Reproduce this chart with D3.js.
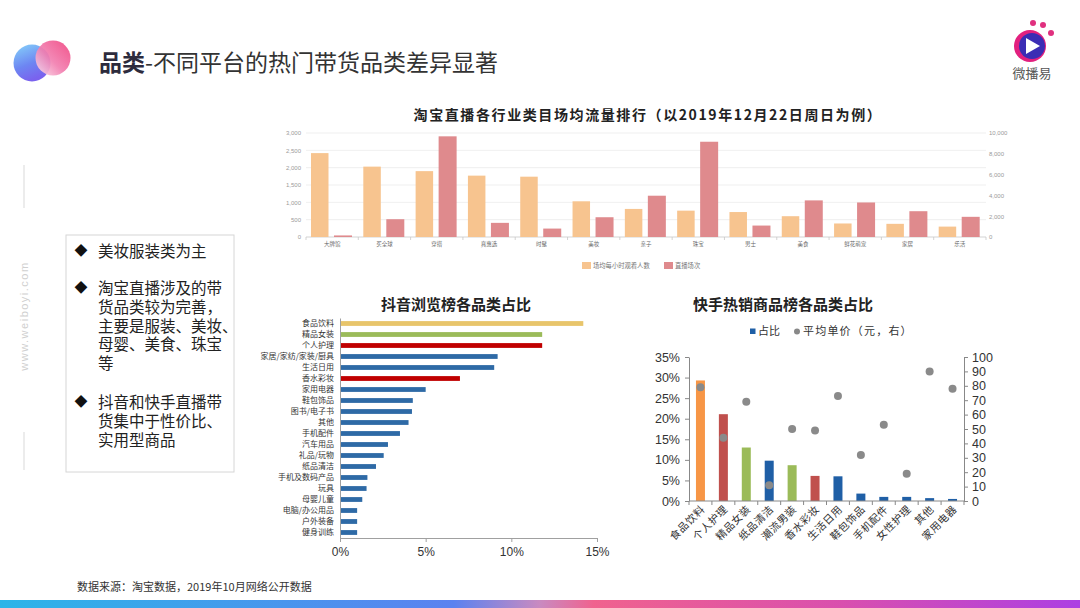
<!DOCTYPE html>
<html><head><meta charset="utf-8">
<script src="https://cdn.jsdelivr.net/npm/d3@7"></script>
<style>body{margin:0;background:#fff} svg{display:block;font-family:"Noto Sans CJK SC","Noto Sans",sans-serif}
.bl{position:absolute;left:0;width:150px;font-family:"Noto Sans CJK SC",sans-serif;font-size:15.5px;line-height:18.8px;color:#222;white-space:pre-line;margin:0}
</style>
</head><body><svg id="c" width="1080" height="608"></svg>
<script>
// ---------- DATA ----------
const tbCats = ["大牌馆","买全球","穿搭","真惠选","时髦","美妆","亲子","珠宝","男士","美食","鲜花萌宠","家居","乐活"];
const tbViewers = [2420,2030,1900,1770,1740,1030,810,760,720,600,390,380,300];
const tbSessions = [150,1710,9680,1360,810,1900,3970,9160,1100,3520,3320,2480,1940];
const tbLeftTicks = [0,500,1000,1500,2000,2500,3000];
const tbRightTicks = [0,2000,4000,6000,8000,10000];
const tbSeries = ["场均每小时观看人数","直播场次"];

const dyCats = ["食品饮料","精品女装","个人护理","家居/家纺/家装/厨具","生活日用","香水彩妆","家用电器","鞋包饰品","图书/电子书","其他","手机配件","汽车用品","礼品/玩物","纸品清洁","手机及数码产品","玩具","母婴儿童","电脑/办公用品","户外装备","健身训练"];
const dyValues = [14.2,11.8,11.8,9.2,9.0,7.0,5.0,4.25,4.2,4.0,3.5,2.8,2.55,2.1,1.6,1.55,1.3,1.0,1.0,1.0];
const dyTicks = [0,5,10,15];

const ksCats = ["食品饮料","个人护理","精品女装","纸品清洁","潮流男装","香水彩妆","生活日用","鞋包饰品","手机配件","女性护理","其他","家用电器"];
const ksShare = [29.3,21.1,13.0,9.8,8.7,6.1,6.0,1.8,1.0,1.0,0.7,0.5];
const ksPrice = [79,44,69,11,50,49,73,32,53,19,90,78];
const ksLeftTicks = [0,5,10,15,20,25,30,35];
const ksRightTicks = [0,10,20,30,40,50,60,70,80,90,100];
const ksSeries = ["占比","平均单价（元，右）"];

const bullets = [["美妆服装类为主"],["淘宝直播涉及的带","货品类较为完善，","主要是服装、美妆、","母婴、美食、珠宝","等"],["抖音和快手直播带","货集中于性价比、","实用型商品"]];

// ---------- STYLE MAPS ----------
const dyColor = c => ({"食品饮料":"#E8C56B","精品女装":"#9BBB59","个人护理":"#C00000","香水彩妆":"#C00000"}[c] || "#2E6AA6");
const ksColor = c => ({"食品饮料":"#F79646","个人护理":"#C0504D","香水彩妆":"#C0504D","精品女装":"#9BBB59","潮流男装":"#9BBB59"}[c] || "#1F5FA6");
const latin = "'Liberation Sans',Arial,sans-serif";

const svg = d3.select("#c");
const defs = svg.append("defs");

// ---------- HEADER / DECOR ----------
const bg = defs.append("linearGradient").attr("id","bottomGrad");
[[0,"#2cb5e8"],[0.42,"#5a82f0"],[0.5,"#c98ac0"],[0.55,"#f0628e"],[0.78,"#d94fae"],[1,"#ac3fe3"]]
  .forEach(([o,c])=>bg.append("stop").attr("offset",o).attr("stop-color",c));
svg.append("rect").attr("x",0).attr("y",600).attr("width",1080).attr("height",8).attr("fill","url(#bottomGrad)");

const g1 = defs.append("linearGradient").attr("id","lg1").attr("x1",0).attr("y1",0).attr("x2",0.4).attr("y2",1);
[[0,"#86d4fa"],[0.6,"#6d86f2"],[1,"#7a62ee"]].forEach(([o,c])=>g1.append("stop").attr("offset",o).attr("stop-color",c));
const g2 = defs.append("linearGradient").attr("id","lg2").attr("x1",1).attr("y1",0).attr("x2",0).attr("y2",1);
[[0,"#f0447f"],[0.55,"#f27fb0"],[1,"#fbe3ef"]].forEach(([o,c])=>g2.append("stop").attr("offset",o).attr("stop-color",c));
svg.append("circle").attr("cx",32).attr("cy",63).attr("r",18.5).attr("fill","url(#lg1)");
svg.append("circle").attr("cx",53).attr("cy",58).attr("r",17.5).attr("fill","url(#lg2)").attr("opacity",0.92);

const ttl = svg.append("text").attr("x",99).attr("y",71).attr("font-size",23).attr("fill","#333");
ttl.append("tspan").attr("font-weight","bold").attr("fill","#2d2b3d").text("品类");
ttl.append("tspan").text("-不同平台的热门带货品类差异显著");

// top-right logo
svg.append("circle").attr("cx",1030).attr("cy",46).attr("r",16).attr("fill","#e2207f");
svg.append("circle").attr("cx",1032).attr("cy",46).attr("r",13).attr("fill","#3b2db4");
svg.append("path").attr("d","M1026,38 L1026,54 L1040,46 Z").attr("fill","#fff");
[[1033,23],[1043,25],[1051,33]].forEach(([x,y])=>svg.append("circle").attr("cx",x).attr("cy",y).attr("r",3).attr("fill","#e0307f"));
svg.append("text").attr("x",1032).attr("y",78).attr("text-anchor","middle").attr("font-size",13).attr("fill","#555").text("微播易");

// watermark
svg.append("line").attr("x1",24).attr("x2",24).attr("y1",165).attr("y2",208).attr("stroke","#ececec").attr("stroke-width",2);
svg.append("line").attr("x1",24).attr("x2",24).attr("y1",432).attr("y2",470).attr("stroke","#ececec").attr("stroke-width",2);
svg.append("text").attr("transform","translate(28,316) rotate(-90)").attr("text-anchor","middle")
  .attr("font-size",11).attr("letter-spacing",1.5).attr("fill","#d0d0d0").attr("font-family",latin).text("www.weiboyi.com");

// footer
svg.append("text").attr("x",77).attr("y",591).attr("font-size",11).attr("fill","#333").text("数据来源：淘宝数据，2019年10月网络公开数据");

// left box
svg.append("rect").attr("x",66).attr("y",235).attr("width",168).attr("height",237).attr("fill","#fff").attr("stroke","#d6d6d6");
const bulletTop = [256,293,407];
bullets.forEach((lines,bi)=>{
  svg.append("text").attr("x",81).attr("y",bulletTop[bi]-1).attr("text-anchor","middle").attr("font-size",13).attr("fill","#111").text("◆");
  const fo = svg.append("foreignObject").attr("x",98).attr("y",bulletTop[bi]-15).attr("width",150).attr("height",lines.length*19+6);
  fo.append("xhtml:div").attr("class","bl").style("position","static").text(lines.join("\n"));
});

// ---------- TAOBAO CHART ----------
const tbX = d3.scaleBand().domain(tbCats).range([306,986]);
const tbYL = d3.scaleLinear().domain([0,3000]).range([237,133]);
const tbYR = d3.scaleLinear().domain([0,10000]).range([237,133]);
const tb = svg.append("g");
tb.append("text").attr("x",648).attr("y",120).attr("text-anchor","middle").attr("font-size",14).attr("font-weight","bold")
  .attr("letter-spacing",1.6).attr("fill","#222").text("淘宝直播各行业类目场均流量排行（以2019年12月22日周日为例）");
tb.selectAll("line.grid").data(tbLeftTicks).join("line").attr("class","grid")
  .attr("x1",306).attr("x2",986).attr("y1",d=>tbYL(d)).attr("y2",d=>tbYL(d))
  .attr("stroke",d=>d===0?"#c8c8c8":"#ebebeb").attr("stroke-width",0.8);
tb.selectAll("rect.v").data(tbCats).join("rect").attr("class","v")
  .attr("x",d=>tbX(d)+5).attr("width",17.5)
  .attr("y",(d,i)=>tbYL(tbViewers[i])).attr("height",(d,i)=>tbYL(0)-tbYL(tbViewers[i])).attr("fill","#F7C48F");
tb.selectAll("rect.s").data(tbCats).join("rect").attr("class","s")
  .attr("x",d=>tbX(d)+28).attr("width",18)
  .attr("y",(d,i)=>tbYR(tbSessions[i])).attr("height",(d,i)=>tbYR(0)-tbYR(tbSessions[i])).attr("fill","#DF8A8D");
tb.selectAll("line.bt").data(tbCats.concat([null])).join("line").attr("class","bt")
  .attr("x1",d=>d===null?tbX.range()[1]:tbX(d)).attr("x2",d=>d===null?tbX.range()[1]:tbX(d))
  .attr("y1",tbYL(0)).attr("y2",tbYL(0)+3).attr("stroke","#c8c8c8").attr("stroke-width",0.8);
const tbAL = tb.append("g").attr("transform","translate(306,0)")
  .call(d3.axisLeft(tbYL).tickValues(tbLeftTicks).tickFormat(d3.format(",")).tickSize(0).tickPadding(5));
tbAL.select(".domain").remove();
tbAL.attr("font-size",6).attr("font-family",latin).selectAll("text").attr("fill","#9a9a9a");
const tbAR = tb.append("g").attr("transform","translate(986,0)")
  .call(d3.axisRight(tbYR).tickValues(tbRightTicks).tickFormat(d3.format(",")).tickSize(0).tickPadding(3));
tbAR.select(".domain").remove();
tbAR.attr("font-size",6).attr("font-family",latin).selectAll("text").attr("fill","#9a9a9a");
const tbAB = tb.append("g").attr("transform",`translate(0,${tbYL(0)})`)
  .call(d3.axisBottom(tbX).tickSize(0).tickPadding(5));
tbAB.select(".domain").remove();
tbAB.attr("font-size",5.5).attr("font-family","'Noto Sans CJK SC',sans-serif").selectAll("text").attr("fill","#666");
// legend
const tbLeg = [{x:582,c:"#F7C48F"},{x:664,c:"#DF8A8D"}];
tbSeries.forEach((s,i)=>{
  tb.append("rect").attr("x",tbLeg[i].x).attr("y",262).attr("width",9).attr("height",7).attr("fill",tbLeg[i].c);
  tb.append("text").attr("x",tbLeg[i].x+11).attr("y",267.5).attr("font-size",6.3).attr("fill","#777").text(s);
});

// ---------- DOUYIN CHART ----------
const dyX = d3.scaleLinear().domain([0,15]).range([340,597]);
const dyY = d3.scaleBand().domain(dyCats).range([318,538]);
const dy = svg.append("g");
dy.append("text").attr("x",456).attr("y",310).attr("text-anchor","middle").attr("font-size",15).attr("font-weight","bold").attr("fill","#222").text("抖音浏览榜各品类占比");
dy.selectAll("rect").data(dyCats).join("rect")
  .attr("x",dyX(0)).attr("y",d=>dyY(d)+dyY.bandwidth()/2-2.4).attr("height",4.8)
  .attr("width",(d,i)=>dyX(dyValues[i])-dyX(0)).attr("fill",d=>dyColor(d));
const dyAL = dy.append("g").attr("transform",`translate(${dyX(0)},0)`).call(d3.axisLeft(dyY).tickSize(0).tickPadding(6));
dyAL.select(".domain").attr("stroke","#a0a0a0");
dyAL.attr("font-size",8).attr("font-family","'Noto Sans CJK SC',sans-serif").selectAll("text").attr("fill","#333");
const dyAB = dy.append("g").attr("transform",`translate(0,538)`)
  .call(d3.axisBottom(dyX).tickValues(dyTicks).tickFormat(d=>d+"%").tickSizeInner(4).tickSizeOuter(0).tickPadding(5));
dyAB.select(".domain").attr("stroke","#a0a0a0");
dyAB.selectAll("line").attr("stroke","#a0a0a0");
dyAB.attr("font-size",12).attr("font-family",latin).selectAll("text").attr("fill","#333");

// ---------- KUAISHOU CHART ----------
const ksX = d3.scaleBand().domain(ksCats).range([689,964]);
const ksYL = d3.scaleLinear().domain([0,35]).range([501,357]);
const ksYR = d3.scaleLinear().domain([0,100]).range([501,357]);
const ks = svg.append("g");
ks.append("text").attr("x",783).attr("y",310).attr("text-anchor","middle").attr("font-size",15).attr("font-weight","bold").attr("fill","#222").text("快手热销商品榜各品类占比");
// legend
ks.append("rect").attr("x",750).attr("y",328.5).attr("width",5.5).attr("height",5.5).attr("fill","#1F5FA6");
ks.append("text").attr("x",758).attr("y",335).attr("font-size",11).attr("fill","#333").text(ksSeries[0]);
ks.append("circle").attr("cx",797).attr("cy",331.5).attr("r",3).attr("fill","#888");
ks.append("text").attr("x",803).attr("y",335).attr("font-size",11).attr("letter-spacing",1.2).attr("fill","#333").text(ksSeries[1]);

ks.selectAll("rect.b").data(ksCats).join("rect").attr("class","b")
  .attr("x",d=>ksX(d)+ksX.bandwidth()/2-4.5).attr("width",9)
  .attr("y",(d,i)=>ksYL(ksShare[i])).attr("height",(d,i)=>ksYL(0)-ksYL(ksShare[i])).attr("fill",d=>ksColor(d));
ks.selectAll("circle.p").data(ksCats).join("circle").attr("class","p")
  .attr("cx",d=>ksX(d)+ksX.bandwidth()/2).attr("cy",(d,i)=>ksYR(ksPrice[i])).attr("r",4).attr("fill","#8a8a8a");
const ksAL = ks.append("g").attr("transform",`translate(689,0)`)
  .call(d3.axisLeft(ksYL).tickValues(ksLeftTicks).tickFormat(d=>d+"%").tickSizeInner(4).tickSizeOuter(0).tickPadding(5));
ksAL.selectAll("path,line").attr("stroke","#888");
ksAL.attr("font-size",12.5).attr("font-family",latin).selectAll("text").attr("fill","#333");
const ksAR = ks.append("g").attr("transform",`translate(964,0)`)
  .call(d3.axisRight(ksYR).tickValues(ksRightTicks).tickSizeInner(4).tickSizeOuter(0).tickPadding(4));
ksAR.selectAll("path,line").attr("stroke","#888");
ksAR.attr("font-size",12.5).attr("font-family",latin).selectAll("text").attr("fill","#333");
ks.append("line").attr("x1",ksX.range()[0]).attr("x2",ksX.range()[1]).attr("y1",ksYL(0)).attr("y2",ksYL(0)).attr("stroke","#888");
ks.selectAll("line.bt").data(ksCats.concat([null])).join("line").attr("class","bt")
  .attr("x1",d=>d===null?ksX.range()[1]:ksX(d)).attr("x2",d=>d===null?ksX.range()[1]:ksX(d))
  .attr("y1",ksYL(0)).attr("y2",ksYL(0)+4).attr("stroke","#888");
ks.selectAll("text.xl").data(ksCats).join("text").attr("class","xl")
  .attr("transform",d=>`translate(${ksX(d)+ksX.bandwidth()/2+5},${ksYL(0)+9}) rotate(-45)`)
  .attr("text-anchor","end").attr("font-size",10.5).attr("letter-spacing",0.5).attr("fill","#333").text(d=>d);
</script></body></html>
